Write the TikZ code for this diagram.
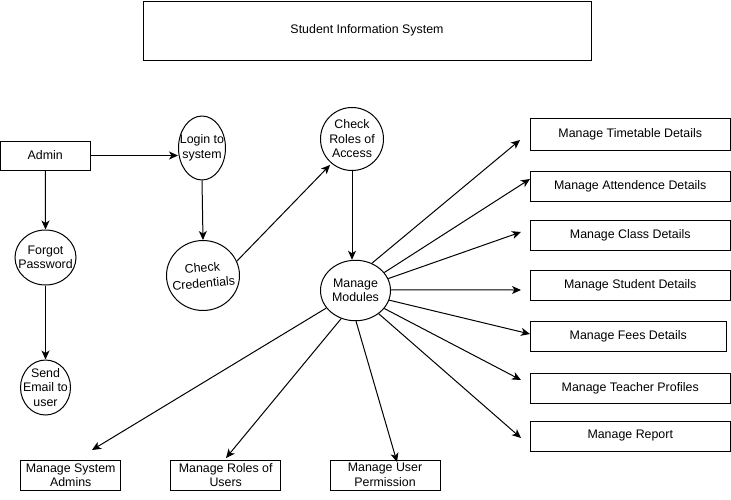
\documentclass[tikz,border=0pt]{standalone}
\usepackage{fontspec}
\setmainfont{Liberation Sans}
\usetikzlibrary{shapes.geometric,arrows.meta}
\tikzset{
  every picture/.style={line width=1pt},
  boxnode/.style={draw, rectangle, inner sep=0pt, align=center},
  procnode/.style={draw, ellipse, inner sep=0pt},
  arr/.style={-{Stealth[length=9pt,width=8pt,inset=2.5pt]}},
}
\begin{document}
\begin{tikzpicture}[x=1pt,y=-1pt,font=\fontsize{12.4}{14.5}\selectfont]
\useasboundingbox (0,0) rectangle (731,499);

% title
\node[boxnode, minimum width=448pt, minimum height=59pt] (title) at (367,30.5) {Student Information System};

% left column
\node[boxnode, minimum width=89.5pt, minimum height=29pt] (admin) at (45.25,155.5) {Admin};
\node[procnode, minimum width=61pt, minimum height=55pt,
  label={[align=center]center:{Forgot\\Password}}] (forgot) at (45.5,257.5) {};
\node[procnode, minimum width=50pt, minimum height=55pt,
  label={[align=center]center:{Send\\Email to\\user}}] (send) at (45.5,387.5) {};

% middle column
\node[procnode, minimum width=47pt, minimum height=64pt,
  label={[align=center]center:{Login to\\system}}] (login) at (202,148) {};
\node[procnode, minimum width=73pt, minimum height=70pt,
  label={[align=center,rotate=5]center:{Check\\[1pt]Credentials}}] (cc) at (203,275.5) {};
\node[procnode, minimum width=63pt, minimum height=63pt,
  label={[align=center]center:{Check\\Roles of\\Access}}] (roles) at (352,139) {};
\node[procnode, minimum width=70pt, minimum height=60.5pt,
  label={[align=center]center:{Manage\\Modules}}] (mm) at (355.5,290.5) {};

% right column
\node[boxnode, minimum width=199.5pt, minimum height=32pt] (tt) at (630.25,134) {Manage Timetable Details};
\node[boxnode, minimum width=199.5pt, minimum height=30pt] (att) at (630.25,186) {Manage Attendence Details};
\node[boxnode, minimum width=199.5pt, minimum height=29.5pt] (cls) at (630.25,235.5) {Manage Class Details};
\node[boxnode, minimum width=199.5pt, minimum height=29.5pt] (stu) at (630.25,285.5) {Manage Student Details};
\node[boxnode, minimum width=195.5pt, minimum height=30pt] (fee) at (628.25,336) {Manage Fees Details};
\node[boxnode, minimum width=199.5pt, minimum height=30pt] (tea) at (630.25,388) {Manage Teacher Profiles};
\node[boxnode, minimum width=199.5pt, minimum height=30pt] (rep) at (630.25,436) {Manage Report};

% bottom row
\node[boxnode, minimum width=100pt, minimum height=30pt] (sa) at (70.7,475) {Manage System\\Admins};
\node[boxnode, minimum width=110pt, minimum height=30pt] (ru) at (225.7,475) {Manage Roles of\\Users};
\node[boxnode, minimum width=110pt, minimum height=30pt] (up) at (385,475) {Manage User\\Permission};

% free arrow ends
\coordinate (ttTip) at (520,140);
\coordinate (attTip) at (530,179);
\coordinate (clsTip) at (521,232);
\coordinate (stuTip) at (521,290);
\coordinate (feeTip) at (530,334);
\coordinate (teaTip) at (521,380);
\coordinate (repTip) at (521,438);
\coordinate (saTip) at (92,450);
\coordinate (ruTip) at (226,458);
\coordinate (upTip) at (397,462);

% connectors
\draw[arr] (admin.east) -- (admin.east -| login.west);
\draw[arr] (admin.south) -- (forgot.north);
\draw[arr] (forgot.south) -- (send.north);
\draw[arr] (login.south) -- (cc.north);
\draw[arr, shorten >=2pt] (cc.23) -- (roles.-130);
\draw[arr] (roles.south) -- (roles.south |- mm.north);

\draw[arr] (mm.59) -- (ttTip);
\draw[arr] (mm.32.5) -- (attTip);
\draw[arr] (mm.20) -- (clsTip);
\draw[arr] (mm.1) -- (stuTip);
\draw[arr] (mm.-16.5) -- (feeTip);
\draw[arr] (mm.-32.6) -- (teaTip);
\draw[arr] (mm.-45) -- (repTip);
\draw[arr] (mm.-89) -- (upTip);
\draw[arr] (mm.-117.7) -- (ruTip);
\draw[arr] (mm.-149.7) -- (saTip);
\end{tikzpicture}
\end{document}
